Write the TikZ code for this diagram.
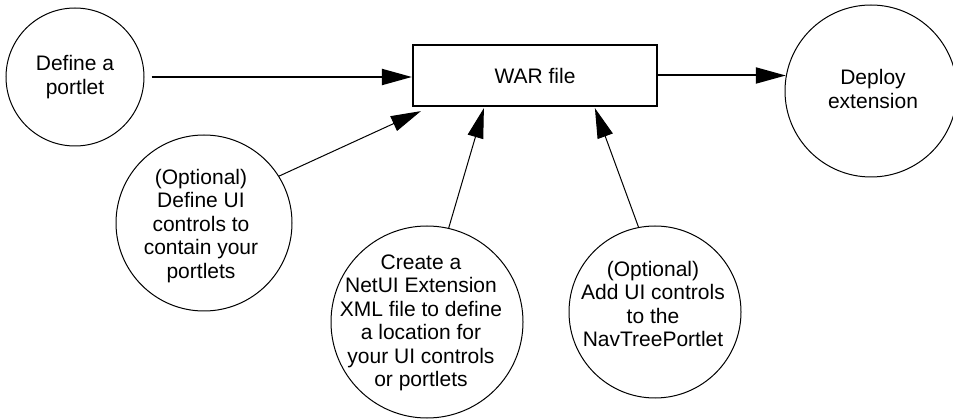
\documentclass[tikz,border=0pt]{standalone}
\usepackage{fontspec}
\setmainfont{Liberation Sans}
\usetikzlibrary{arrows.meta,calc}
\begin{document}
\begin{tikzpicture}[x=1pt,y=-1pt,
  txt/.style={font=\fontsize{21}{23.5}\selectfont, align=center, inner sep=0pt},
  circ/.style={draw, circle, line width=1pt, inner sep=0pt},
  warbox/.style={draw, rectangle, line width=2.2pt, inner sep=0pt, txt},
  thickarr/.style={line width=2pt, -{Triangle[length=30pt,width=16pt]}},
  thinarr/.style={line width=1pt, -{Triangle[length=30pt,width=16pt]}},
]
\useasboundingbox (0,0) rectangle (953,419);
% circles
\node[circ, minimum size=138pt] (c1) at (75,77) {};
\node[circ, minimum size=172pt] (dep) at (871,91) {};
\node[circ, minimum size=176pt] (c3) at (204,223) {};
\node[circ, minimum size=192pt] (c4) at (427,322) {};
\node[circ, minimum size=172pt] (c5) at (655,312) {};
% box
\node[warbox, minimum width=244pt, minimum height=61pt] (war) at (535,75.5) {WAR file};
% texts
\node[txt] (t1) at (75,77) {Define a\\portlet};
\node[txt] (td) at (873,89) {Deploy\\extension};
\node[txt] (t3) at (201,226) {(Optional)\\Define UI\\controls to\\contain your\\portlets};
\node[txt] (t4) at (421,323) {Create a\\NetUI Extension\\XML file to define\\a location for\\your UI controls\\or portlets};
\node[txt] (t5) at (653,304) {(Optional)\\Add UI controls\\to the\\NavTreePortlet};
% connectors
\draw[thickarr, shorten <=7pt] (c1.east) -- (c1.east -| war.west);
\draw[thickarr] (war.east) -- (war.east -| dep.170);
\draw[thinarr] (c3.32) -- ($(war.south west)+(9,4)$);
\draw[thinarr] (c4.77) -- ($(war.south west)+(72,1)$);
\draw[thinarr] (c5.101) -- ($(war.south west)+(183,1)$);
\end{tikzpicture}
\end{document}
